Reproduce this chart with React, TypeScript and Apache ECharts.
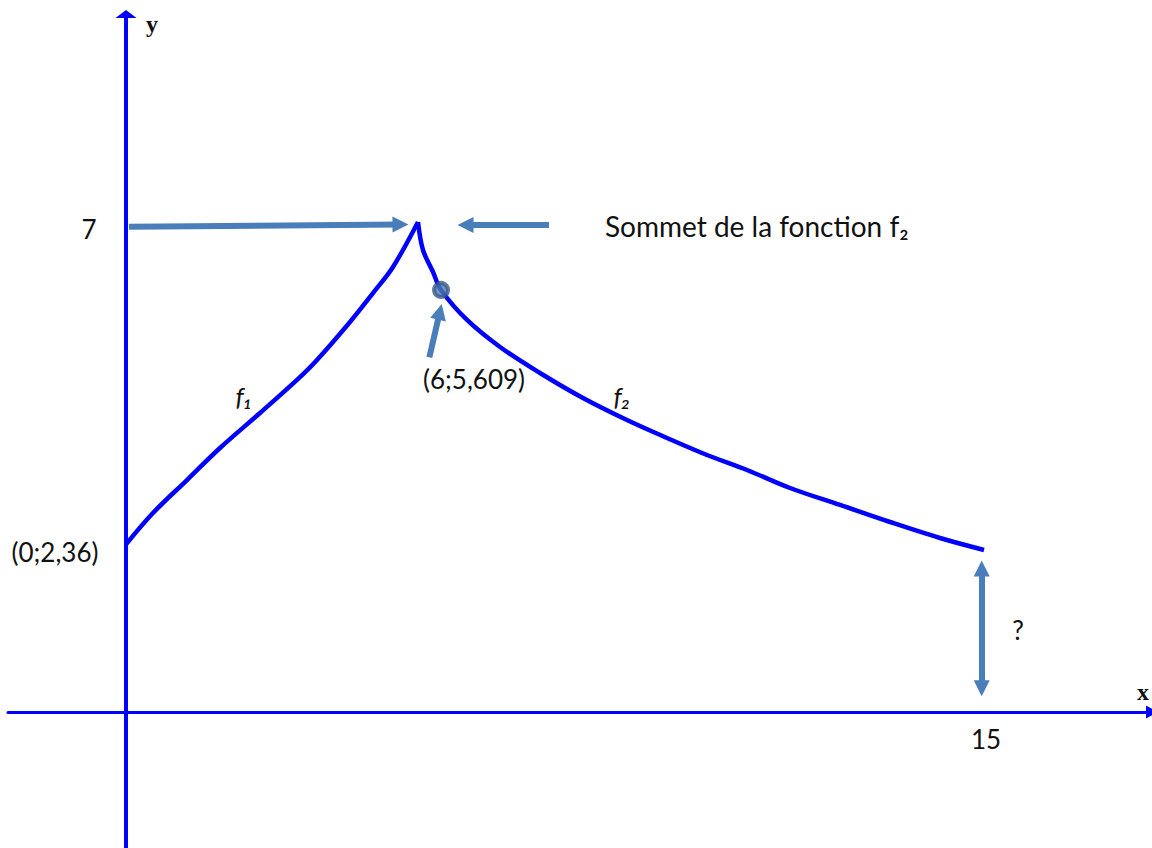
import React, { useEffect, useRef } from "react";
import * as echarts from "echarts";

// f1 : rising branch (x, y in chart units)
const f1X = [0, 0.471, 1.065, 1.641, 2.34, 2.986, 3.335, 3.911, 4.313, 4.662, 5.099];
const f1Y = [2.42, 2.872, 3.348, 3.81, 4.315, 4.792, 5.08, 5.629, 6.047, 6.423, 7.072];

// f2 : falling branch
const f2X = [5.099, 5.186, 5.361, 5.501, 5.955, 6.531, 7.229, 7.98, 8.748, 9.447, 10.145, 10.844, 11.595, 12.468, 13.341, 14.214, 14.983];
const f2Y = [7.072, 6.668, 6.35, 6.091, 5.658, 5.268, 4.893, 4.532, 4.214, 3.955, 3.709, 3.493, 3.233, 2.988, 2.742, 2.511, 2.338];

// marked point (6;5,609) as drawn
const pointX = [5.501];
const pointY = [6.091];

// annotation arrows
const arrowFromX = [0.052, 7.386, 5.297, 14.942];
const arrowFromY = [7.003, 7.029, 5.119, 0.343];
const arrowToX = [4.793, 5.928, 5.481, 14.942];
const arrowToY = [7.036, 7.029, 5.776, 2.071];
const arrowDouble = [false, false, false, true];

const X_MIN = -2.0605;
const X_MAX = 17.916;
const Y_MIN = -1.963;
const Y_MAX = 10.074;

const BLUE = "#0000FF";
const ARROW = "#4A7EBB";
const FONT = "Lato, 'Noto Sans', sans-serif";

export default function App() {
  const ref = useRef<HTMLDivElement>(null);

  useEffect(() => {
    if (!ref.current) return;
    const chart = echarts.init(ref.current, undefined, { renderer: "svg" });

    const f1 = f1X.map((x, i) => [x, f1Y[i]]);
    const f2 = f2X.map((x, i) => [x, f2Y[i]]);
    const pts = pointX.map((x, i) => [x, pointY[i]]);
    const arrows = arrowFromX.map((x, i) => [
      {
        coord: [x, arrowFromY[i]],
        symbol: arrowDouble[i] ? "triangle" : "none",
      },
      { coord: [arrowToX[i], arrowToY[i]], symbol: "triangle" },
    ]);

    const txt = (text: string, x: number, y: number, extra: any = {}) => ({
      type: "text",
      x,
      y,
      silent: true,
      style: {
        text,
        fill: "#111",
        fontFamily: FONT,
        fontSize: 26,
        align: "center",
        verticalAlign: "middle",
        ...extra,
      },
    });

    chart.setOption({
      animation: false,
      backgroundColor: "#fff",
      grid: { left: 8, right: 0, top: 14, bottom: 0 },
      xAxis: {
        type: "value",
        min: X_MIN,
        max: X_MAX,
        axisLine: {
          onZero: true,
          lineStyle: { color: BLUE, width: 3 },
          symbol: ["none", "triangle"],
          symbolSize: [13, 12],
        },
        axisTick: { show: false },
        axisLabel: { show: false },
        splitLine: { show: false },
      },
      yAxis: {
        type: "value",
        min: Y_MIN,
        max: Y_MAX,
        axisLine: {
          onZero: true,
          lineStyle: { color: BLUE, width: 4 },
          symbol: ["none", "triangle"],
          symbolSize: [21, 8],
        },
        axisTick: { show: false },
        axisLabel: { show: false },
        splitLine: { show: false },
      },
      series: [
        {
          name: "f1",
          type: "line",
          data: f1,
          smooth: 0.35,
          showSymbol: false,
          lineStyle: { color: BLUE, width: 4.5 },
          z: 3,
        },
        {
          name: "f2",
          type: "line",
          data: f2,
          smooth: 0.35,
          showSymbol: false,
          lineStyle: { color: BLUE, width: 4.5 },
          z: 3,
        },
        {
          name: "point",
          type: "scatter",
          data: pts,
          symbolSize: 14,
          itemStyle: { color: "#4C7AB3", borderColor: "#3A5A86", borderWidth: 4 },
          z: 5,
          markLine: {
            silent: true,
            symbolSize: [16, 16],
            label: { show: false },
            lineStyle: { color: ARROW, width: 6, type: "solid" },
            emphasis: { disabled: true },
            data: arrows,
          },
        },
      ],
      graphic: [
        txt("y", 146, 24, {
          fontFamily: "'Liberation Serif', 'DejaVu Serif', serif",
          fontWeight: "bold",
          fontSize: 24,
          align: "left",
        }),
        txt("x", 1137, 692, {
          fontFamily: "'Liberation Serif', 'DejaVu Serif', serif",
          fontWeight: "bold",
          fontSize: 24,
          align: "left",
        }),
        txt("7", 89, 229),
        txt("(0;2,36)", 55, 552),
        txt("Sommet de la fonction f\u2082", 605, 226, { align: "left", fontSize: 28 }),
        txt("(6;5,609)", 474, 379),
        txt("f\u2081", 244, 396, { fontStyle: "italic" }),
        txt("f\u2082", 622, 396, { fontStyle: "italic" }),
        txt("?", 1018, 630),
        txt("15", 986, 739),
      ],
    });

    return () => chart.dispose();
  }, []);

  return (
    <div
      ref={ref}
      style={{ position: "absolute", left: 0, top: 0, width: 1152, height: 848 }}
    />
  );
}
